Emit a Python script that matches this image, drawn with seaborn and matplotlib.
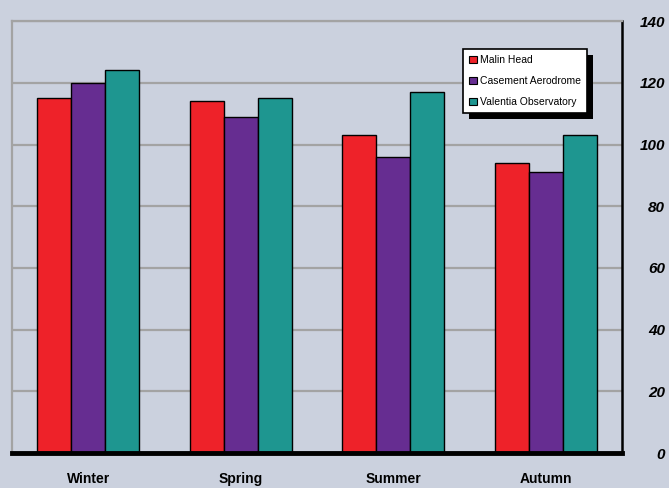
import numpy as np
import pandas as pd
import matplotlib
matplotlib.use('Agg')
import matplotlib.pyplot as plt
import matplotlib.patches as mpatches
import seaborn as sns

# ── Data ───────────────────────────────────────────────────────────────────
seasons  = ['Winter', 'Spring', 'Summer', 'Autumn']
stations = ['Malin Head', 'Casement Aerodrome', 'Valentia Observatory']
malin    = [115, 114, 103, 94]
casement = [120, 109, 96, 91]
valentia = [124, 115, 117, 103]
yticks   = [0, 20, 40, 60, 80, 100, 120, 140]

palette = {'Malin Head': '#EE2229',
           'Casement Aerodrome': '#662D91',
           'Valentia Observatory': '#1E9690'}
BG = '#CBD1DE'

df = pd.DataFrame({'season': seasons * 3,
                   'station': np.repeat(stations, len(seasons)),
                   'value': malin + casement + valentia})

sns.set_style('white')
plt.rcParams['font.family'] = ['Liberation Sans', 'DejaVu Sans']
plt.rcParams['text.color'] = 'black'
plt.rcParams['xtick.color'] = 'black'
plt.rcParams['ytick.color'] = 'black'

fig = plt.figure(figsize=(6.69, 4.88), dpi=100, facecolor=BG)
ax = fig.add_axes([0.018, 0.0717, 0.912, 0.885])
ax.set_facecolor(BG)

sns.barplot(data=df, x='season', y='value', hue='station', order=seasons,
            hue_order=stations, palette=palette, width=0.67, gap=0,
            edgecolor='black', linewidth=1, saturation=1, ax=ax, zorder=3)

# ── Axes styling ──────────────────────────────────────────────────────────
ax.set_ylim(0, 140)
ax.set_xlim(-0.5, 3.5)
ax.set_yticks(yticks)
ax.yaxis.grid(True, color='#A3A3A3', linewidth=1.6, zorder=0)
ax.set_axisbelow(True)
ax.yaxis.tick_right()
ax.tick_params(axis='y', length=0, pad=31, labelsize=11, labelcolor='black')
for lbl in ax.get_yticklabels():
    lbl.set_ha('right')
    lbl.set_fontweight('bold')
    lbl.set_fontstyle('italic')
ax.tick_params(axis='x', length=0, pad=14, labelsize=10, labelcolor='black')
for lbl in ax.get_xticklabels():
    lbl.set_fontweight('bold')
ax.set_xlabel('')
ax.set_ylabel('')

for side in ['left', 'top']:
    ax.spines[side].set_color('#A3A3A3')
    ax.spines[side].set_linewidth(1.6)
ax.spines['right'].set_color('black')
ax.spines['right'].set_linewidth(1.8)
ax.spines['bottom'].set_color('black')
ax.spines['bottom'].set_linewidth(3.5)
for s in ax.spines.values():
    s.set_zorder(5)

# ── Legend ────────────────────────────────────────────────────────────────
handles, labels = ax.get_legend_handles_labels()
leg = ax.legend(handles, labels, loc='upper left',
                bbox_to_anchor=(0.692, 0.8996), bbox_transform=fig.transFigure,
                fontsize=7.5, frameon=True, fancybox=False, shadow=False,
                handlelength=0.75, handleheight=0.75, handletextpad=0.3,
                labelspacing=1.05, borderpad=0.6, borderaxespad=0)
leg.get_frame().set_edgecolor('black')
leg.get_frame().set_linewidth(1.2)
leg.get_frame().set_facecolor('white')
leg.get_frame().set_alpha(1)
for h in leg.legend_handles:
    h.set_edgecolor('black')
    h.set_linewidth(0.8)
for t in leg.get_texts():
    t.set_color('black')
leg.set_zorder(10)

# black drop shadow offset a few pixels right/down from the legend box
fig.canvas.draw()
bb = leg.get_frame().get_window_extent()
shadow = mpatches.Rectangle((bb.x0 + 6, bb.y0 - 6), bb.width, bb.height,
                            transform=None, facecolor='black',
                            edgecolor='none', zorder=9, clip_on=False)
ax.add_patch(shadow)

plt.savefig('out.png', dpi=100, facecolor=BG)
plt.close()
